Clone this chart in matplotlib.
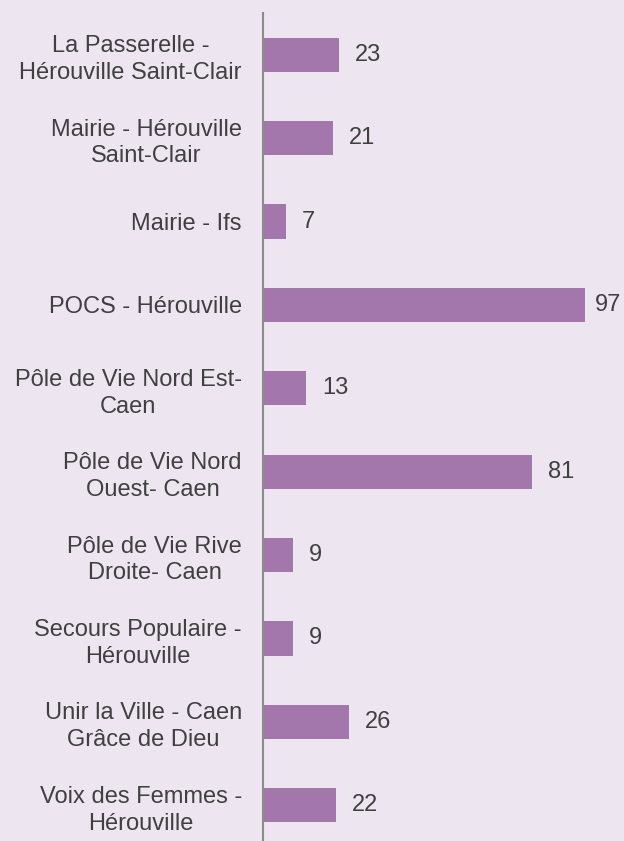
import matplotlib
matplotlib.use("Agg")
import matplotlib.pyplot as plt

categories = [
    "La Passerelle -\nHérouville Saint-Clair",
    "Mairie - Hérouville\nSaint-Clair",
    "Mairie - Ifs",
    "POCS - Hérouville",
    "Pôle de Vie Nord Est-\nCaen",
    "Pôle de Vie Nord\nOuest- Caen",
    "Pôle de Vie Rive\nDroite- Caen",
    "Secours Populaire -\nHérouville",
    "Unir la Ville - Caen\nGrâce de Dieu",
    "Voix des Femmes -\nHérouville",
]
values = [23, 21, 7, 97, 13, 81, 9, 9, 26, 22]

bg = "#EDE5F0"
bar_color = "#A376AC"
text_color = "#404040"

plt.rcParams['font.family'] = ['Liberation Sans', 'DejaVu Sans']

W, H = 624, 841
fig = plt.figure(figsize=(W / 100, H / 100), dpi=100, facecolor=bg)
left = 262.7 / W
top_px = 13
band = 83.4
bottom_px = top_px + band * len(categories)
ax = fig.add_axes([left, 1 - bottom_px / H, 332.7 / W, (bottom_px - top_px) / H])
ax.set_facecolor(bg)

pos = list(range(len(categories)))
ax.barh(pos, values, height=0.41, color=bar_color, zorder=2)
ax.set_xlim(0, 100)
ax.set_ylim(len(categories) - 0.5, -0.5)

ax.set_yticks(pos)
ax.set_yticklabels(categories, fontsize=17, color=text_color, multialignment='center', linespacing=1.28)
ax.tick_params(axis='y', length=0, pad=15)
ax.set_xticks([])
for s in ['top', 'right', 'bottom']:
    ax.spines[s].set_visible(False)
ax.spines['left'].set_color('#8C8C8C')
ax.spines['left'].set_linewidth(1.5)
ax.spines['left'].set_zorder(3)

vmax = max(values)
for p, v in zip(pos, values):
    off = 6.5 if v == vmax else 11.5
    ax.annotate(str(v), xy=(v, p), xytext=(off, 0), textcoords='offset points',
                ha='left', va='center', fontsize=17, color=text_color, annotation_clip=False)

fig.savefig("out.png", dpi=100, facecolor=bg)
